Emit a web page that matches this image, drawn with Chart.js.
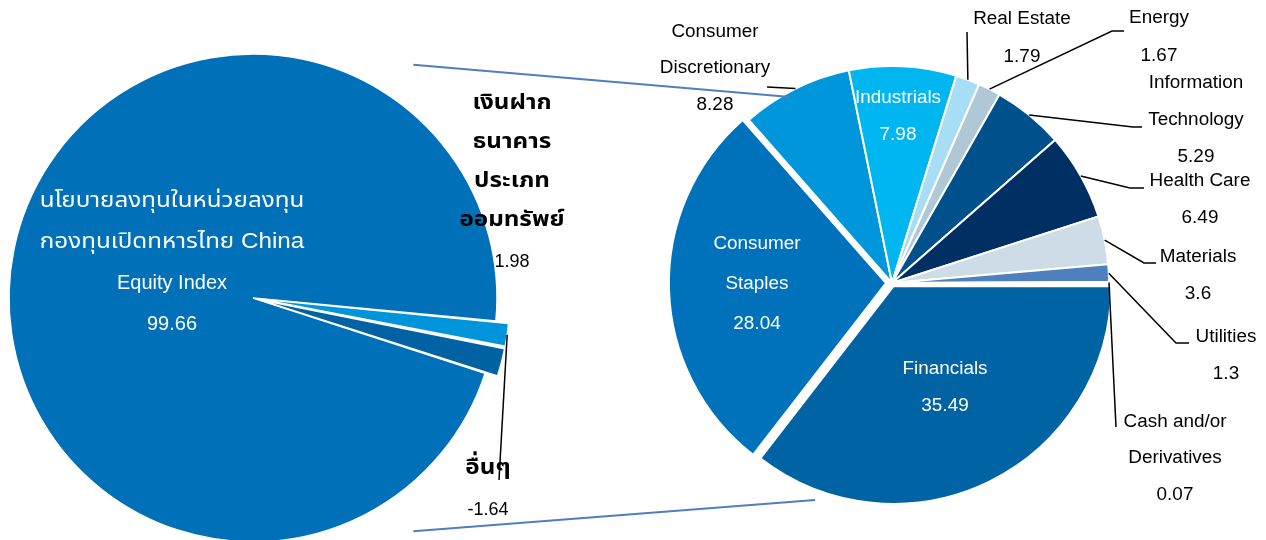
<!DOCTYPE html>
<html><head><meta charset="utf-8">
<script src="https://cdn.jsdelivr.net/npm/chart.js@4.4.1/dist/chart.umd.min.js"></script>
<style>
html,body{margin:0;padding:0;background:#fff;overflow:hidden;width:1266px;height:540px;}
canvas{position:absolute;left:0;top:0;}
</style></head><body>
<canvas id="left" width="1266" height="600"></canvas>
<canvas id="right" width="1266" height="600"></canvas>
<script>
// ---------- DATA ----------
const fundCategories = [
  "นโยบายลงทุนในหน่วยลงทุน\nกองทุนเปิดทหารไทย China\nEquity Index",
  "อื่นๆ",
  "เงินฝาก\nธนาคาร\nประเภท\nออมทรัพย์"
];
const fundValues = [99.66, -1.64, 1.98];

const sectorCategories = [
  "Financials", "Consumer\nStaples", "Consumer\nDiscretionary", "Industrials",
  "Real Estate", "Energy", "Information\nTechnology", "Health Care",
  "Materials", "Utilities", "Cash and/or\nDerivatives"
];
const sectorValues = [35.49, 28.04, 8.28, 7.98, 1.79, 1.67, 5.29, 6.49, 3.6, 1.3, 0.07];

// ---------- STYLE / LAYOUT ----------
const FONT = '"Liberation Sans", Arial, "Noto Sans Thai", "Noto Sans", "DejaVu Sans", sans-serif';
const THAI_SIZE = 1.1, THAI_SX = 1.1;
const fundColors = ['#0070b8', '#0095da', '#0062a2'];
const fundOffsets = [0, 27, 27];
const sectorColors = ['#0063a3', '#0072bb', '#0096db', '#00b6f0', '#a8ddf6', '#b0c7d6',
  '#00508c', '#002f63', '#cddce6', '#4f80be', '#e6eef5'];
const sectorOffsets = [14, 24, 0, 0, 0, 0, 0, 0, 0, 0, 0];

const fundLabelLayout = [
  {x: 172, y: 201, lh: 41, size: 20, color: '#ffffff'},
  {x: 488, y: 468, lh: 42, size: 20, color: '#000000', bold: true, valueSize: 18, leader: [[499, 480]]},
  {x: 512, y: 103, lh: 39, size: 20, color: '#000000', bold: true, valueSize: 18, valueGap: 3}
];
const sectorLabelLayout = [
  {x: 945, y: 369, lh: 37, color: '#ffffff'},
  {x: 757, y: 244, lh: 40, color: '#ffffff'},
  {x: 715, y: 32, lh: 36.5, color: '#000000', leader: [[767, 87]]},
  {x: 898, y: 98, lh: 37, color: '#ffffff'},
  {x: 1022, y: 19, lh: 38, color: '#000000', leader: [[967, 32]]},
  {x: 1159, y: 18, lh: 38, color: '#000000', leader: [[1112, 31], [1124, 31]]},
  {x: 1196, y: 83, lh: 37, color: '#000000', leader: [[1133, 127], [1142, 127]]},
  {x: 1200, y: 181, lh: 37, color: '#000000', leader: [[1130, 188], [1144, 188]]},
  {x: 1198, y: 257, lh: 37, color: '#000000', leader: [[1144, 263], [1156, 263]]},
  {x: 1226, y: 337, lh: 37, color: '#000000', leader: [[1176, 343], [1189, 343]]},
  {x: 1175, y: 422, lh: 36.5, color: '#000000', leader: [[1116, 427]]}
];
// connector lines between the two pies: angle (deg) & radius factor on each pie
const connectors = [
  {la: -55.5, lr: 1.16, ra: 241.3, rr: 0.977},
  {la: 55.5, lr: 1.16, ra: 109.5, rr: 1.061}
];

// geometry helper: replicate Chart.js v4 arc offset drawing
function arcEdgePoint(arc) {
  const p = arc.getProps(['x', 'y', 'startAngle', 'endAngle', 'outerRadius', 'circumference'], true);
  const t = (arc.options.offset || 0) / 4;
  const mid = (p.startAngle + p.endAngle) / 2;
  const fix = 1 - Math.sin(Math.min(Math.PI, p.circumference || 0));
  const r = p.outerRadius + t * fix;
  const cx = p.x + Math.cos(mid) * t, cy = p.y + Math.sin(mid) * t;
  return [cx + Math.cos(mid) * r, cy + Math.sin(mid) * r];
}

function drawLabels(chart, layouts, cats, vals, defSize, sx) {
  const ctx = chart.ctx;
  const meta = chart.getDatasetMeta(0);
  ctx.save();
  layouts.forEach((L, i) => {
    const arc = meta.data[i];
    if (L.leader) {
      const s = arcEdgePoint(arc);
      ctx.beginPath();
      ctx.moveTo(s[0], s[1]);
      L.leader.forEach(pt => ctx.lineTo(pt[0], pt[1]));
      ctx.strokeStyle = '#000';
      ctx.lineWidth = 1.5;
      ctx.stroke();
    }
    const names = cats[i].split('\n');
    const lines = names.concat([String(vals[i])]);
    lines.forEach((t, k) => {
      const isVal = k === lines.length - 1;
      const thai = /[\u0E00-\u0E7F]/.test(t);
      let size = isVal ? (L.valueSize || L.size || defSize) : (L.size || defSize);
      let scaleX = L.sx || sx;
      if (thai) { size = size * THAI_SIZE; scaleX = scaleX * THAI_SX; }
      const bold = L.bold && !isVal;
      ctx.font = (bold ? 'bold ' : '') + size + 'px ' + FONT;
      ctx.fillStyle = L.color;
      ctx.textAlign = 'center';
      ctx.textBaseline = 'middle';
      const y = L.y + k * L.lh + (isVal ? (L.valueGap || 0) : 0);
      ctx.save();
      ctx.translate(L.x, y);
      ctx.scale(scaleX, 1);
      ctx.fillText(t, 0, 0);
      ctx.restore();
    });
  });
  ctx.restore();
}

const baseOptions = {
  responsive: false,
  animation: false,
  events: [],
  plugins: {legend: {display: false}, tooltip: {enabled: false}}
};

const leftChart = new Chart(document.getElementById('left'), {
  type: 'pie',
  data: {
    labels: fundCategories,
    datasets: [{
      data: fundValues,
      backgroundColor: fundColors,
      borderColor: '#ffffff',
      borderWidth: 1.5,
      offset: fundOffsets
    }]
  },
  options: Object.assign({}, baseOptions, {
    rotation: 108,
    radius: 244,
    layout: {padding: {left: 0, right: 1266 - 506, top: 0, bottom: 4}}
  }),
  plugins: [{
    id: 'fundLabels',
    afterDatasetsDraw(chart) { drawLabels(chart, fundLabelLayout, fundCategories, fundValues, 20, 1.0); }
  }]
});

const rightChart = new Chart(document.getElementById('right'), {
  type: 'pie',
  data: {
    labels: sectorCategories,
    datasets: [{
      data: sectorValues,
      backgroundColor: sectorColors,
      borderColor: '#ffffff',
      borderWidth: 2,
      offset: sectorOffsets
    }]
  },
  options: Object.assign({}, baseOptions, {
    rotation: 90,
    radius: 217,
    layout: {padding: {left: 600, right: 1266 - 1184, top: 0, bottom: 600 - 566}}
  }),
  plugins: [{
    id: 'sectorLabels',
    afterDatasetsDraw(chart) {
      drawLabels(chart, sectorLabelLayout, sectorCategories, sectorValues, 18, 1.05);
      // connector lines linking the two pies
      const la = leftChart.getDatasetMeta(0).data[0];
      const ra = chart.getDatasetMeta(0).data[0];
      const ctx = chart.ctx;
      ctx.save();
      ctx.strokeStyle = '#4f7fbf';
      ctx.lineWidth = 2;
      connectors.forEach(c => {
        const a1 = c.la * Math.PI / 180, a2 = c.ra * Math.PI / 180;
        ctx.beginPath();
        ctx.moveTo(la.x + Math.cos(a1) * la.outerRadius * c.lr, la.y + Math.sin(a1) * la.outerRadius * c.lr);
        ctx.lineTo(ra.x + Math.cos(a2) * ra.outerRadius * c.rr, ra.y + Math.sin(a2) * ra.outerRadius * c.rr);
        ctx.stroke();
      });
      ctx.restore();
    }
  }]
});
</script>
</body></html>
